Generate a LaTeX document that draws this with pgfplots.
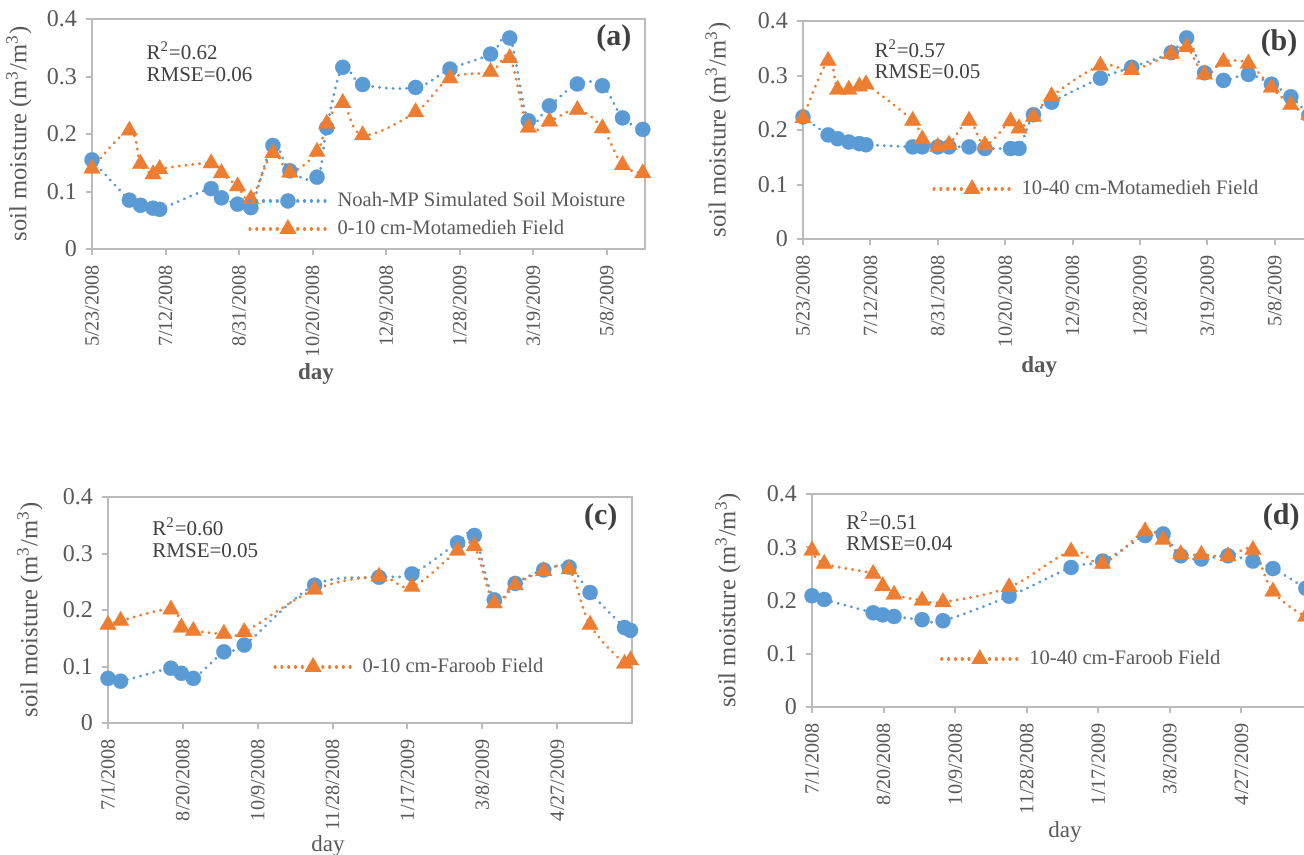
\documentclass[border=0pt]{standalone}
\usepackage{pgfplots}
\pgfplotsset{compat=1.18}
\usepackage{fontspec}
\setmainfont{Liberation Serif}
\definecolor{sblue}{HTML}{5B9BD5}
\definecolor{sorange}{HTML}{ED7D31}
\definecolor{axgray}{HTML}{BBBBBB}
\definecolor{txtgray}{HTML}{595959}
\definecolor{dgray}{HTML}{3F3F3F}
\pgfplotsset{
  smpanel/.style={
    scale only axis, xmin=0, ymin=0, ymax=0.4,
    ytick={0,0.1,0.2,0.3,0.4}, yticklabels={0,0.1,0.2,0.3,0.4},
    tick pos=left, tick align=outside, major tick length=3pt,
    axis line style={draw=axgray, line width=1.2pt},
    every tick/.append style={draw=axgray, line width=1pt},
    yticklabel style={text=txtgray, font=\fontsize{12}{14}\selectfont, xshift=-1pt},
    xticklabel style={text=txtgray, rotate=90, anchor=east, font=\fontsize{10.1}{12}\selectfont, xshift=-1.5pt},
    ylabel={soil moisture (m\textsuperscript{3}/m\textsuperscript{3})},
    ylabel style={font=\fontsize{12.3}{14}\selectfont, text=txtgray, anchor=center},
    xlabel style={font=\fontsize{11.5}{13}\selectfont, text=txtgray, anchor=center},
    clip=false,
    legend style={draw=none, fill=none, inner sep=0pt, anchor=west,
      font=\fontsize{10.3}{12}\selectfont, text=txtgray,
      nodes={inner sep=1pt, text height=8pt, text depth=2.5pt},
      row sep=1.5pt,
      /tikz/every odd column/.append style={column sep=4pt}},
    legend cell align=left,
    legend image code/.code={\draw[mark repeat=2,mark phase=2,##1] plot coordinates {(0pt,0pt) (19pt,0pt) (38pt,0pt)};},
  },
  bser/.style={color=sblue, line width=1.6pt, dash pattern=on 0.01pt off 3.4pt, line cap=round,
    smooth, tension=0.6, mark=*, mark size=3.8pt, mark options={solid, fill=sblue, draw=sblue, line width=0.1pt}},
  oser/.style={color=sorange, line width=1.6pt, dash pattern=on 0.01pt off 3.4pt, line cap=round,
    smooth, tension=0.6, mark=triangle*, mark size=4.8pt, mark options={solid, fill=sorange, draw=sorange, line width=0.1pt}},
}
\newcommand{\ann}[4]{%
  \node[anchor=west, text=dgray, font=\fontsize{10.5}{12}\selectfont, inner sep=0pt] at (axis description cs:#1,#2) {R\textsuperscript{2}=#3};
  \node[anchor=west, text=dgray, font=\fontsize{10.5}{12}\selectfont, inner sep=0pt] at (axis description cs:#1,#2-0.104) {RMSE=#4};}
\newcommand{\plab}[3]{%
  \node[anchor=east, text=dgray, font=\fontsize{15}{17}\bfseries, inner sep=0pt] at (axis description cs:#1,#2) {(#3)};}
\begin{document}
\begin{tikzpicture}
\useasboundingbox (0,0) rectangle (652pt,-427.5pt);
% ---------------- (a)
\begin{axis}[smpanel, at={(46pt,-124.5pt)}, anchor=south west,
  width=276.5pt, height=115pt, xmax=376,
  xtick={0,50,...,350},
  xticklabels={5/23/2008,7/12/2008,8/31/2008,10/20/2008,12/9/2008,1/28/2009,3/19/2009,5/8/2009},
  xlabel={\bfseries day},
  xlabel style={at={(axis description cs:0.405,-0.545)}},
  ylabel style={at={(axis description cs:-0.132,0.5)}},
  legend style={at={(axis description cs:0.282,0.148)}}]
\addplot[bser] coordinates {(0,0.155) (25.4,0.085) (33,0.076) (41.5,0.071) (46,0.069) (81,0.105) (88,0.089) (99,0.078) (108,0.072) (123,0.180) (134.5,0.136) (153,0.125) (159.6,0.211) (170.5,0.316) (184,0.286) (220,0.281) (243.4,0.313) (271,0.339) (284,0.367) (296.7,0.223) (311,0.249) (330,0.287) (347,0.284) (360.7,0.228) (374.5,0.208)};
\addlegendentry{Noah-MP Simulated Soil Moisture}
\addplot[oser] coordinates {(0,0.140) (25.4,0.206) (33,0.148) (41.5,0.130) (46,0.139) (81,0.149) (88,0.132) (99,0.109) (108,0.087) (123,0.167) (134.5,0.133) (153,0.169) (159.6,0.218) (170.5,0.254) (184,0.198) (220,0.238) (243.4,0.297) (271,0.308) (284,0.332) (296.7,0.211) (311,0.222) (330,0.242) (347,0.210) (360.7,0.146) (374.5,0.132)};
\addlegendentry{0-10 cm-Motamedieh Field}
\ann{0.098}{0.861}{0.62}{0.06}
\plab{0.976}{0.917}{a}
\end{axis}
% ---------------- (b)
\begin{axis}[smpanel, at={(401.5pt,-119.5pt)}, anchor=south west,
  width=254pt, height=109pt, xmax=377,
  xtick={0,50,...,350},
  xticklabels={5/23/2008,7/12/2008,8/31/2008,10/20/2008,12/9/2008,1/28/2009,3/19/2009,5/8/2009},
  xlabel={\bfseries day},
  xlabel style={at={(axis description cs:0.465,-0.587)}},
  ylabel style={at={(axis description cs:-0.167,0.5)}},
  legend style={at={(axis description cs:0.254,0.229)}}]
\addplot[bser, forget plot] coordinates {(0,0.224) (18.6,0.191) (25.7,0.184) (34,0.178) (41.8,0.175) (46.7,0.173) (81.4,0.169) (88.5,0.169) (100,0.169) (108.3,0.169) (123.2,0.169) (135,0.166) (154,0.166) (160.3,0.166) (171,0.228) (184.5,0.251) (220.7,0.295) (243.9,0.315) (273.3,0.342) (284.7,0.369) (298,0.305) (312,0.291) (330.5,0.302) (347.6,0.284) (362,0.261) (375.4,0.227)};
\addplot[oser] coordinates {(0,0.222) (18.6,0.327) (25.7,0.274) (34,0.274) (41.8,0.280) (46.7,0.284) (81.4,0.217) (88.5,0.183) (100,0.169) (108.3,0.173) (123.2,0.217) (135,0.172) (154,0.216) (160.3,0.203) (171,0.224) (184.5,0.262) (220.7,0.318) (243.9,0.310) (273.3,0.340) (284.7,0.352) (298,0.302) (312,0.325) (330.5,0.322) (347.6,0.278) (362,0.246) (375.4,0.228)};
\addlegendentry{10-40 cm-Motamedieh Field}
\ann{0.140}{0.872}{0.57}{0.05}
\plab{0.974}{0.899}{b}
\end{axis}
% ---------------- (c)
\begin{axis}[smpanel, at={(54pt,-361.5pt)}, anchor=south west,
  width=262pt, height=113pt, xmax=350,
  xtick={0,50,...,300},
  xticklabels={7/1/2008,8/20/2008,10/9/2008,11/28/2008,1/17/2009,3/8/2009,4/27/2009},
  xlabel={day},
  xlabel style={at={(axis description cs:0.42,-0.545)}},
  ylabel style={at={(axis description cs:-0.149,0.5)}},
  legend style={at={(axis description cs:0.315,0.248)}}]
\addplot[bser, forget plot] coordinates {(0,0.079) (8.4,0.074) (42,0.097) (49,0.088) (57,0.079) (77.4,0.126) (91,0.138) (138,0.244) (181,0.258) (203,0.264) (233.5,0.319) (244.7,0.332) (258,0.218) (272,0.247) (291,0.271) (308,0.276) (322,0.231) (345,0.169) (349,0.164)};
\addplot[oser] coordinates {(0,0.174) (8.4,0.181) (42,0.201) (49,0.169) (57,0.163) (77.4,0.158) (91,0.161) (138,0.236) (181,0.259) (203,0.241) (233.5,0.305) (244.7,0.313) (258,0.212) (272,0.244) (291,0.269) (308,0.272) (322,0.174) (345,0.105) (349,0.111)};
\addlegendentry{0-10 cm-Faroob Field}
\ann{0.084}{0.867}{0.60}{0.05}
\plab{0.973}{0.912}{c}
\end{axis}
% ---------------- (d)
\begin{axis}[smpanel, at={(406pt,-353.5pt)}, anchor=south west,
  width=250.5pt, height=106.5pt, xmax=350,
  xtick={0,50,...,300},
  xticklabels={7/1/2008,8/20/2008,10/9/2008,11/28/2008,1/17/2009,3/8/2009,4/27/2009},
  xlabel={day},
  xlabel style={at={(axis description cs:0.505,-0.587)}},
  ylabel style={at={(axis description cs:-0.168,0.5)}},
  legend style={at={(axis description cs:0.255,0.225)}}]
\addplot[bser, forget plot] coordinates {(0,0.209) (8.5,0.202) (42.7,0.177) (49.4,0.173) (57.3,0.170) (76.9,0.164) (91.5,0.162) (137.7,0.208) (181,0.262) (203,0.274) (232.7,0.322) (245.3,0.325) (257.6,0.284) (272,0.278) (290.6,0.284) (308,0.274) (322,0.260) (345,0.223) (350,0.217)};
\addplot[oser] coordinates {(0,0.294) (8.5,0.269) (42.7,0.250) (49.4,0.227) (57.3,0.211) (76.9,0.200) (91.5,0.197) (137.7,0.225) (181,0.292) (203,0.269) (232.7,0.330) (245.3,0.314) (257.6,0.287) (272,0.286) (290.6,0.283) (308,0.295) (322,0.217) (345,0.170) (350,0.183)};
\addlegendentry{10-40 cm-Faroob Field}
\ann{0.068}{0.873}{0.51}{0.04}
\plab{0.974}{0.892}{d}
\end{axis}
\end{tikzpicture}
\end{document}
